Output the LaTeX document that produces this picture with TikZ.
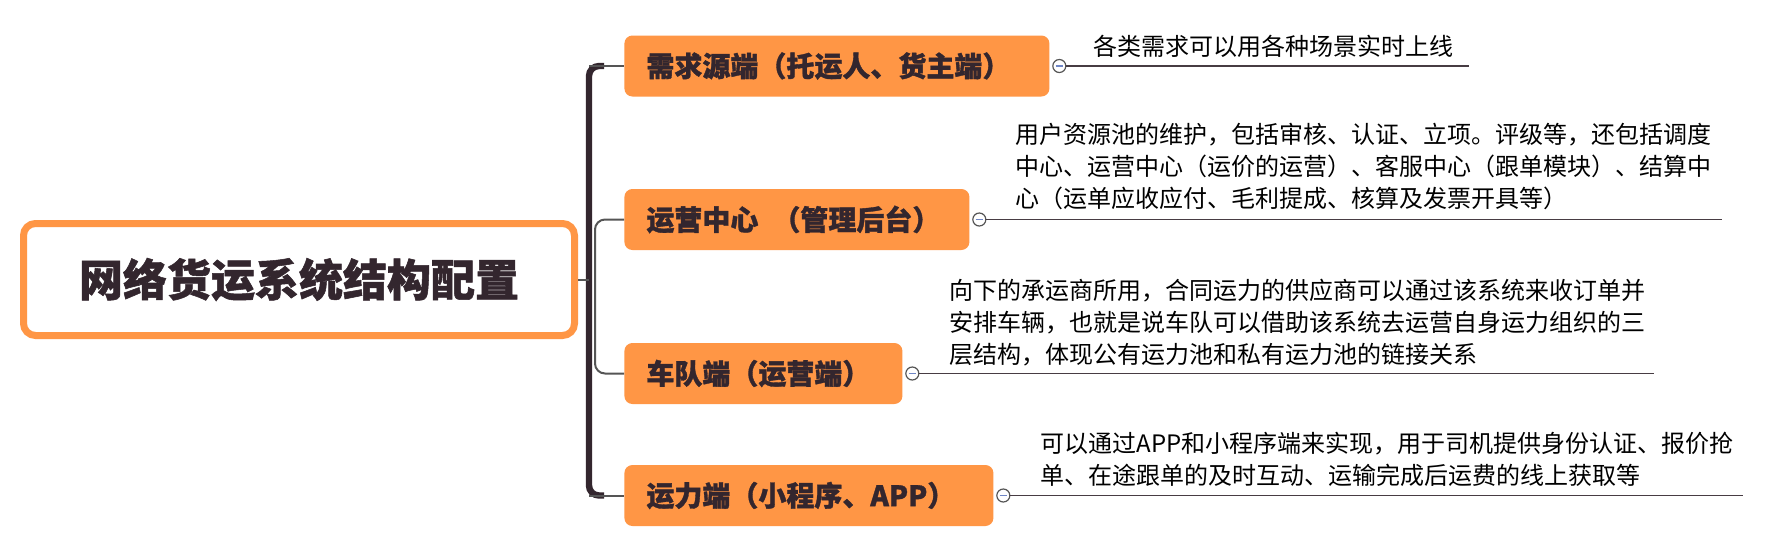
\documentclass[tikz,border=0pt]{standalone}
\usepackage{fontspec}
\newfontfamily\cjk{Noto Sans CJK SC}
\newfontfamily\cjkheavy[BoldFeatures={FakeBold=1.2}]{Noto Sans CJK SC}
\usetikzlibrary{positioning}
\definecolor{boxorange}{HTML}{FF9645}
\definecolor{darktext}{HTML}{33262E}
\definecolor{linegray}{HTML}{555555}
\definecolor{minusblue}{HTML}{6F86C6}

\begin{document}
\begin{tikzpicture}
    [x=0.5pt, y=-0.5pt,
    every node/.style={font=\cjk},
    root/.style={draw=boxorange, line width=3.5pt, fill=white, rounded corners=6pt,
        minimum width=275.5pt, minimum height=56pt, text=darktext,
        font=\cjkheavy\bfseries\fontsize{22}{26}\selectfont},
    branchbox/.style={fill=boxorange, rounded corners=4pt, anchor=west,
        minimum height=30.5pt, inner xsep=11pt, inner ysep=0pt, align=left, text=darktext,
        font=\cjkheavy\bfseries\fontsize{14}{17}\selectfont},
    leaftext/.style={anchor=west, inner sep=0pt, align=left, text=black,
        font=\cjk\fontsize{12}{16}\selectfont},
    fold/.style={circle, draw=linegray, fill=white, line width=0.6pt, minimum size=6.5pt, inner sep=0pt,
        path picture={\draw[minusblue, line width=0.6pt]
            ([xshift=-1.8pt]path picture bounding box.center) -- ([xshift=1.8pt]path picture bounding box.center);}},
    trunk/.style={draw=darktext, line width=3.2pt, rounded corners=5pt},
    branch/.style={draw=linegray, line width=1pt, rounded corners=5pt},
    leafline/.style={draw=darktext!90, line width=0.8pt}
    ]
    \path[fill=white] (0,0) rectangle (1770,543);
    \useasboundingbox (0,0) rectangle (1770,543);

    \node[root] (root) at (299,279.5) {网络货运系统结构配置};

    \node[branchbox, text width=190.5pt] (demand) at (624,66) {需求源端（托运人、货主端）};
    \node[branchbox, text width=150.5pt] (ops) at (624,219.5) {运营中心\hspace{7pt}（管理后台）};
    \node[branchbox, text width=117pt] (fleet) at (624,373.5) {车队端（运营端）};
    \node[branchbox, text width=162.5pt] (carrier) at (624,495.5) {运力端（小程序、APP）};

    \node[fold, right=1.2pt of demand] (demand-dot) {};
    \node[fold, right=1.2pt of ops] (ops-dot) {};
    \node[fold, right=1.2pt of fleet] (fleet-dot) {};
    \node[fold, right=1.2pt of carrier] (carrier-dot) {};

    \coordinate (trunk-top) at (589,66);
    \coordinate (trunk-mid) at (589,279.5);
    \coordinate (trunk-bot) at (589,495.5);
    \coordinate (demand-end) at (1469,66);
    \coordinate (ops-end) at (1722,219.5);
    \coordinate (fleet-end) at (1654,373.5);
    \coordinate (carrier-end) at (1743,495.5);

    \draw[trunk] (604,66) -- (trunk-top) -- (trunk-bot) -- (604,495.5);
    \draw[branch] (root.east) -- (trunk-mid);
    \draw[branch] (trunk-top) -- (demand.west);
    \draw[branch] (trunk-bot) -- (carrier.west);
    \draw[branch] (ops.west) -| (595,300) |- (fleet.west);

    \draw[leafline] (demand-dot) -- (demand-end);
    \draw[leafline] (ops-dot) -- (ops-end);
    \draw[leafline] (fleet-dot) -- (fleet-end);
    \draw[leafline] (carrier-dot) -- (carrier-end);

    \node[leaftext] (demand-note) at (1093,46) {各类需求可以用各种场景实时上线};
    \node[leaftext] (ops-note) at (1015,166.5) {用户资源池的维护，包括审核、认证、立项。评级等，还包括调度\\
        中心、运营中心（运价的运营）、客服中心（跟单模块）、结算中\\
        心（运单应收应付、毛利提成、核算及发票开具等）};
    \node[leaftext] (fleet-note) at (949,322.5) {向下的承运商所用，合同运力的供应商可以通过该系统来收订单并\\
        安排车辆，也就是说车队可以借助该系统去运营自身运力组织的三\\
        层结构，体现公有运力池和私有运力池的链接关系};
    \node[leaftext] (carrier-note) at (1040,459) {可以通过APP和小程序端来实现，用于司机提供身份认证、报价抢\\
        单、在途跟单的及时互动、运输完成后运费的线上获取等};
\end{tikzpicture}
\end{document}
